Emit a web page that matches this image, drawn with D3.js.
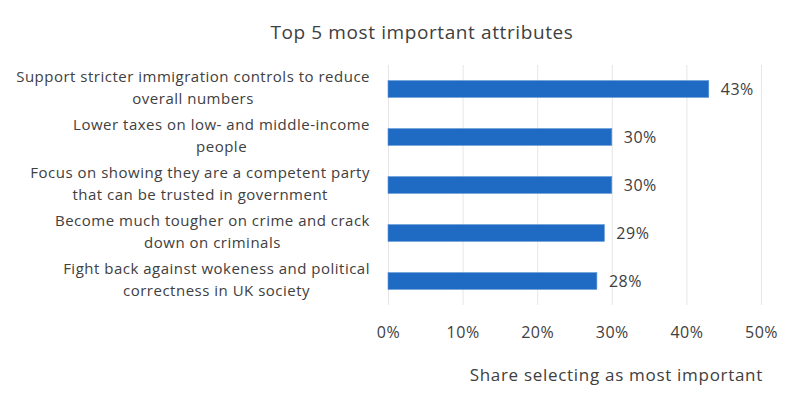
<!DOCTYPE html>
<html>
<head>
<meta charset="utf-8">
<script src="https://cdn.jsdelivr.net/npm/d3@7"></script>
<style>
  body { margin: 0; background: #fff; }
  svg text { font-family: "Open Sans", sans-serif; fill: #404040; }
</style>
</head>
<body>
<div id="chart"></div>
<script>
// data
const categories = [
    ["Support stricter immigration controls to reduce", "overall numbers"],
    ["Lower taxes on low- and middle-income", "people"],
    ["Focus on showing they are a competent party", "that can be trusted in government"],
    ["Become much tougher on crime and crack", "down on criminals"],
    ["Fight back against wokeness and political", "correctness in UK society"]
]
const shares = [0.43, 0.30, 0.30, 0.29, 0.28]
const xTicks = [0, 0.1, 0.2, 0.3, 0.4, 0.5]

const W = 800, H = 399
const margin = {top: 65, right: 39, bottom: 94, left: 388}

const svg = d3.select("#chart")
    .append("svg")
    .attr("width", W)
    .attr("height", H)

const data = categories.map((c, i) => ({ key: i, lines: c, value: shares[i] }))

const x = d3.scaleLinear()
    .domain([0, 0.5])
    .range([margin.left, W - margin.right])

const y = d3.scaleBand()
    .domain(data.map(d => d.key))
    .range([margin.top, H - margin.bottom])
    .paddingInner(0.65)
    .paddingOuter(0.325)

// title
svg.append("text")
    .attr("x", 422)
    .attr("y", 39)
    .attr("text-anchor", "middle")
    .style("font-size", "19px")
    .style("letter-spacing", "0.6px")
    .text("Top 5 most important attributes")

// x axis with gridlines
const xAxis = svg.append("g")
    .attr("transform", `translate(0,${H - margin.bottom})`)
    .call(d3.axisBottom(x)
        .tickValues(xTicks)
        .tickFormat(d3.format(".0%"))
        .tickSize(-(H - margin.bottom - margin.top))
        .tickPadding(22))

xAxis.select(".domain").remove()
xAxis.selectAll(".tick line")
    .attr("stroke", "#e6e6e6")
xAxis.selectAll(".tick text")
    .style("font-size", "16px")
    .style("letter-spacing", "0.5px")
    .style("font-family", "'Open Sans', sans-serif")
    .attr("fill", "#404040")

// bars
svg.append("g")
    .selectAll("rect")
    .data(data)
    .join("rect")
    .attr("x", x(0))
    .attr("y", d => y(d.key))
    .attr("width", d => x(d.value) - x(0))
    .attr("height", y.bandwidth())
    .attr("fill", "#1f6bc4")
    .attr("stroke", "#5b93d6")
    .attr("stroke-width", 0.6)

// value labels
svg.append("g")
    .selectAll("text")
    .data(data)
    .join("text")
    .attr("x", d => x(d.value) + 12)
    .attr("y", d => y(d.key) + y.bandwidth() / 2)
    .attr("dy", "0.35em")
    .style("font-size", "16px")
    .style("letter-spacing", "0.5px")
    .text(d => d3.format(".0%")(d.value))

// category labels, wrapped block right-aligned, lines centered inside it
const labelRight = 370
const catG = svg.append("g")
data.forEach(d => {
    const g = catG.append("g")
    const cy = y(d.key) + y.bandwidth() / 2 - 1.3
    const texts = d.lines.map((line, j) => g.append("text")
        .attr("y", cy + (j - (d.lines.length - 1) / 2) * 22.7)
        .attr("dy", "0.35em")
        .attr("text-anchor", "middle")
        .style("font-size", "15px")
        .style("letter-spacing", "0.5px")
        .text(line))
    const maxW = d3.max(texts, t => t.node().getComputedTextLength())
    texts.forEach(t => t.attr("x", labelRight - maxW / 2))
})

// axis title
svg.append("text")
    .attr("x", 763)
    .attr("y", 381)
    .attr("text-anchor", "end")
    .style("font-size", "17px")
    .style("letter-spacing", "0.7px")
    .text("Share selecting as most important")
</script>
</body>
</html>
